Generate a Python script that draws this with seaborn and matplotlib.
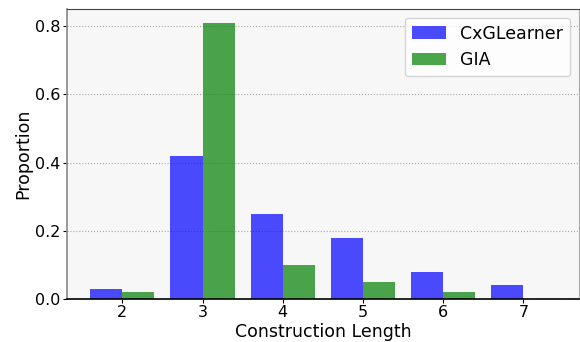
import numpy as np
import pandas as pd
import seaborn as sns
import matplotlib.pyplot as plt

# Data
lengths = [2, 3, 4, 5, 6, 7]
cxglearner = [0.03, 0.42, 0.25, 0.18, 0.08, 0.04]
gia = [0.02, 0.81, 0.10, 0.05, 0.02, 0.0]

df = pd.DataFrame({'length': lengths, 'CxGLearner': cxglearner, 'GIA': gia})

sns.set_style('ticks', rc={'text.color': 'black', 'axes.labelcolor': 'black',
                           'xtick.color': 'black', 'ytick.color': 'black'})
plt.rcParams['font.family'] = ['DejaVu Sans']

fig, ax = plt.subplots(figsize=(5.8, 3.42), dpi=100)
ax.set_facecolor('#f7f7f7')

width = 0.4
ax.bar(df['length'] - width, df['CxGLearner'], width=width, align='edge',
       color='blue', alpha=0.7, linewidth=0, label='CxGLearner', zorder=2)
ax.bar(df['length'], df['GIA'], width=width, align='edge',
       color='green', alpha=0.7, linewidth=0, label='GIA', zorder=2)

ax.set_xticks(lengths)
ax.set_yticks([0.0, 0.2, 0.4, 0.6, 0.8])
ax.grid(axis='y', linestyle=':', color='#aaaaaa', linewidth=0.8, zorder=0)
ax.tick_params(labelsize=11.5, colors='black', length=3, width=0.8, pad=1.5)
ax.set_xlabel('Construction Length', fontsize=12.5, labelpad=2)
ax.set_ylabel('Proportion', fontsize=12.5, labelpad=2)

ax.spines['bottom'].set_color('black')
ax.spines['bottom'].set_linewidth(1.2)
ax.spines['left'].set_color('#888888')
ax.spines['left'].set_linewidth(1.2)
ax.spines['right'].set_color('#aaaaaa')
ax.spines['top'].set_color('#444444')

ax.legend(fontsize=12.5, loc='upper right')

fig.subplots_adjust(left=0.1155, right=0.998, bottom=0.126, top=0.974)
fig.savefig('out.png')
